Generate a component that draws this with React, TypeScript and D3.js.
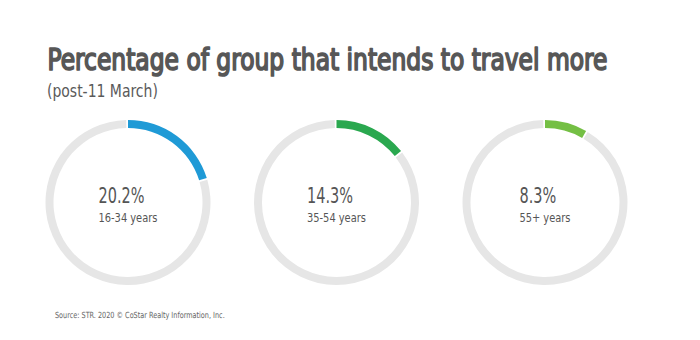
import * as d3 from "d3";
import { useEffect, useRef } from "react";

// data
const groups = ["16-34 years", "35-54 years", "55+ years"];
const shares = [20.2, 14.3, 8.3];
const colours = ["#1f9ad6", "#2aa84f", "#74bf44"];

const title = "Percentage of group that intends to travel more";
const subtitle = "(post-11 March)";
const source = "Source: STR. 2020 \u00a9 CoStar Realty Information, Inc.";

const FONT = "'Liberation Sans Narrow', 'DejaVu Sans Condensed', sans-serif";

type Sel = d3.Selection<SVGTextElement, unknown, null, undefined>;

// squeeze a text horizontally so it takes the given width (the reference font is condensed)
function squeeze(t: Sel, x: number, y: number, w: number) {
    const natural = (t.node() as SVGTextElement).getComputedTextLength();
    t.attr("transform", `translate(${x},${y}) scale(${w / natural},1)`);
}

export default function App() {
    const ref = useRef<SVGSVGElement>(null);

    useEffect(() => {
        const width = 700;
        const height = 340;
        const svg = d3.select(ref.current);
        svg.selectAll("*").remove();

        svg.append("rect").attr("width", width).attr("height", height).attr("fill", "#ffffff");

        //    ---------------   TITLES  ------------------------

        const t1 = svg.append("text").text(title)
            .attr("font-family", FONT)
            .attr("font-size", 31)
            .attr("fill", "#575757")
            .attr("stroke", "#575757")
            .attr("stroke-width", 1.7)
            .attr("stroke-linejoin", "round") as unknown as Sel;
        squeeze(t1, 47.5, 69.5, 560);

        const t2 = svg.append("text").text(subtitle)
            .attr("font-family", FONT)
            .attr("font-size", 18)
            .attr("fill", "#5a5a5a") as unknown as Sel;
        squeeze(t2, 47, 97, 111);

        const t3 = svg.append("text").text(source)
            .attr("font-family", FONT)
            .attr("font-size", 8.5)
            .attr("fill", "#666666") as unknown as Sel;
        squeeze(t3, 55, 318, 170);

        //    ---------------   RINGS  ------------------------

        const X = d3.scalePoint<string>()
            .domain(groups)
            .range([128, 545]);
        const cy = 202.5;
        const outer = 82.5;
        const inner = 74.5;

        const angle = d3.scaleLinear().domain([0, 100]).range([0, 2 * Math.PI]);
        const pad = 0.022;

        const arc = d3.arc<{ a0: number; a1: number }>()
            .innerRadius(inner)
            .outerRadius(outer)
            .startAngle((d) => d.a0)
            .endAngle((d) => d.a1);

        let kPct = 1;
        let kLab = 1;

        groups.forEach((g, i) => {
            const cx = X(g) as number;
            const gg = svg.append("g").attr("transform", `translate(${cx},${cy})`);

            gg.append("path")
                .attr("d", arc({ a0: angle(shares[i]) + pad, a1: angle(100) - pad }) as string)
                .attr("fill", "#e6e6e6");

            gg.append("path")
                .attr("d", arc({ a0: angle(0), a1: angle(shares[i]) }) as string)
                .attr("fill", colours[i]);

            const pct = gg.append("text").text(`${shares[i]}%`)
                .attr("font-family", FONT)
                .attr("font-size", 21)
                .attr("fill", "#555555");

            const lab = gg.append("text").text(g)
                .attr("font-family", FONT)
                .attr("font-size", 13)
                .attr("fill", "#555555");

            const wp = (pct.node() as SVGTextElement).getComputedTextLength();
            const wl = (lab.node() as SVGTextElement).getComputedTextLength();
            // compression taken from the first ring's measured widths
            if (i === 0) {
                kPct = 46 / wp;
                kLab = 59 / wl;
            }
            const w = Math.max(wp * kPct, wl * kLab);
            pct.attr("transform", `translate(${-w / 2},0.5) scale(${kPct},1)`);
            lab.attr("transform", `translate(${-w / 2},19) scale(${kLab},1)`);
        });
    }, []);

    return (
        <svg ref={ref} width={700} height={340}
            style={{ position: "absolute", left: 0, top: 0, display: "block" }} />
    );
}
